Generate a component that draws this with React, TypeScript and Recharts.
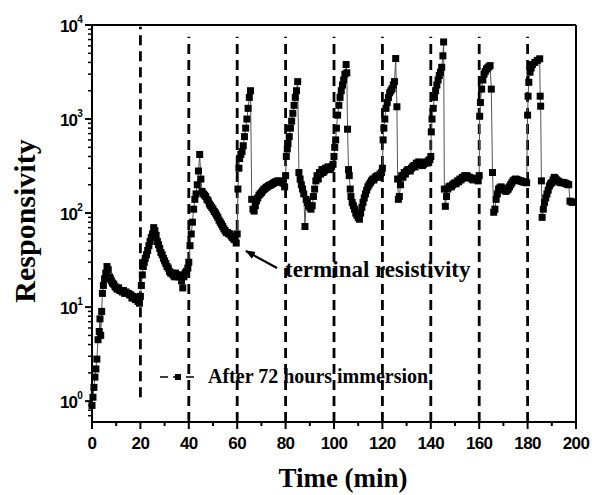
import React from 'react';
import { LineChart, Line, XAxis, YAxis, ReferenceLine } from 'recharts';

type P = [number, number];

const cycle0: P[] = [[0,0.9],[0.4,1.1],[0.8,1.4],[1.2,1.8],[1.6,2.2],[2,2.8],[2.5,4.5],[3,5.5],[3.3,7.5],[3.6,5],[4,9],[4.3,14],[4.7,17],[5.2,20],[5.7,23],[6.2,27],[6.7,25],[7.2,21],[7.6,20],[8,19],[8.5,18],[9,17.5],[9.5,16.5],[10,16],[10.5,15.5],[11,16],[11.5,15],[12,15],[12.5,14.5],[13,15],[13.5,14],[14,14.5],[14.5,14],[15,14],[15.5,13.5],[16,13.5],[16.5,12.5],[17,13],[17.5,12.5],[18,12],[18.5,12.5],[19,11.5],[19.6,11]];
const cycle1: P[] = [[20,13],[20.4,17],[20.8,22],[21.2,27],[21.6,30],[22,33],[22.5,36],[23,40],[23.5,45],[24,50],[24.5,55],[25,60],[25.5,70],[26,65],[26.5,58],[27,50],[27.5,46],[28,42],[28.5,38],[29,36],[29.5,33],[30,31],[30.5,29],[31,27],[31.5,26],[32,24],[32.5,23],[33,23],[33.5,22],[34,21],[34.5,23],[35,22],[35.5,21],[36,22],[36.5,21],[37,19],[37.5,16],[38,21],[38.5,23],[39,24],[39.6,26]];
const cycle2: P[] = [[40,30],[40.5,45],[41,60],[41.5,80],[42,110],[42.5,140],[43,160],[43.5,200],[44,280],[44.5,420],[45,230],[45.5,170],[46,160],[46.5,155],[47,150],[47.5,140],[48,135],[48.5,125],[49,120],[49.5,115],[50,110],[50.5,104],[51,100],[51.5,95],[52,90],[52.5,84],[53,80],[53.5,76],[54,72],[54.5,68],[55,65],[55.5,62],[56,62],[56.5,60],[57,60],[57.5,57],[58,55],[58.5,53],[59,52],[59.6,48]];
const cycle3: P[] = [[60,60],[60.3,180],[60.7,300],[61,380],[61.5,420],[62,450],[62.5,520],[63,650],[63.5,800],[64,1000],[64.5,1300],[65,1700],[65.5,2000],[66,140],[66.5,110],[67,105],[67.5,120],[68,135],[68.5,145],[69,155],[69.5,160],[70,165],[70.5,172],[71,178],[71.5,182],[72,188],[72.5,190],[73,195],[73.5,198],[74,200],[74.5,205],[75,208],[75.5,212],[76,215],[76.5,218],[77,220],[77.5,218],[78,215],[78.5,212],[79,208],[79.6,190]];
const cycle4: P[] = [[80,250],[80.3,400],[80.7,480],[81,550],[81.5,650],[82,800],[82.5,950],[83,1150],[83.5,1400],[84,1700],[84.5,2000],[85,2500],[85.5,270],[86,230],[86.5,200],[87,180],[87.5,160],[88,72],[88.5,140],[89,130],[89.5,120],[90,115],[90.5,110],[91,120],[91.5,150],[92,180],[92.5,220],[93,250],[93.5,230],[94,270],[94.5,260],[95,290],[95.5,270],[96,280],[96.5,300],[97,290],[97.5,310],[98,300],[98.5,290],[99,310],[99.6,330]];
const cycle5: P[] = [[100,400],[100.3,500],[100.7,600],[101,800],[101.5,1100],[102,1400],[102.5,1700],[103,2000],[103.5,2300],[104,2600],[104.5,3000],[105,3800],[105.3,3100],[105.6,780],[106,290],[106.3,250],[106.7,180],[107,150],[107.5,130],[108,120],[108.5,110],[109,100],[109.5,95],[110,90],[110.5,86],[111,100],[111.5,115],[112,130],[112.5,145],[113,160],[113.5,175],[114,190],[114.5,200],[115,210],[115.5,220],[116,230],[116.5,225],[117,240],[117.5,245],[118,250],[118.5,240],[119,260],[119.6,270]];
const cycle6: P[] = [[120,300],[120.3,600],[120.6,800],[121,1000],[121.5,1300],[122,1500],[122.5,1700],[123,1900],[123.5,2000],[124,2100],[124.5,2300],[125,2500],[125.5,4400],[126,1350],[126.3,230],[126.6,140],[127,150],[127.5,200],[128,250],[128.5,240],[129,270],[129.5,260],[130,280],[130.5,290],[131,290],[131.5,280],[132,300],[132.5,310],[133,320],[133.5,310],[134,340],[134.5,330],[135,350],[135.5,340],[136,340],[136.5,320],[137,330],[137.5,340],[138,350],[138.5,340],[139,360],[139.6,370]];
const cycle7: P[] = [[140,400],[140.2,730],[140.5,1000],[141,1300],[141.5,1700],[142,2000],[142.5,2300],[143,2600],[143.5,2900],[144,3150],[144.5,3550],[145,4700],[145.3,6600],[145.6,180],[146,118],[146.5,150],[147,180],[147.5,190],[148,194],[148.5,190],[149,200],[149.5,205],[150,210],[150.5,205],[151,220],[151.5,215],[152,230],[152.5,225],[153,240],[153.5,235],[154,250],[154.5,245],[155,250],[155.5,240],[156,240],[156.5,235],[157,230],[157.5,225],[158,230],[158.5,235],[159,230],[159.6,220]];
const cycle8: P[] = [[160,250],[160.2,1070],[160.5,1500],[161,2080],[161.5,2600],[162,3000],[162.5,3200],[163,3400],[163.5,3500],[164,3600],[164.5,3700],[165,2080],[165.5,270],[166,102],[166.5,110],[167,140],[167.5,160],[168,180],[168.5,185],[169,190],[169.5,185],[170,180],[170.5,175],[171,170],[171.5,175],[172,180],[172.5,190],[173,200],[173.5,210],[174,220],[174.5,225],[175,230],[175.5,228],[176,225],[176.5,222],[177,220],[177.5,218],[178,215],[178.5,214],[179,213],[179.6,210]];
const cycle9: P[] = [[180,1100],[180.2,1750],[180.5,2460],[181,3150],[181.5,3500],[182,3800],[183,4000],[184,4200],[185,4370],[185.2,1750],[185.4,1370],[185.7,220],[186,90],[186.5,110],[187,130],[187.5,145],[188,160],[188.5,175],[189,194],[189.5,205],[190,210],[190.5,225],[191,240],[191.5,232],[192,225],[192.5,220],[193,215],[193.5,212],[194,210],[194.5,212],[195,210],[195.5,208],[196,205],[196.5,202],[197,200],[197.5,134],[198,132],[198.5,130]];

const xTicks = [0,10,20,30,40,50,60,70,80,90,100,110,120,130,140,150,160,170,180,190,200];
const yMajor = [1,10,100,1000,10000];
const yExp = ['0','1','2','3','4'];
const yMinorFactors = [2,3,4,5,6,7,8,9];
const dashedTimes = [20,40,60,80,100,120,140,160,180];
const legendLabel = 'After 72 hours immersion';
const annotationLabel = 'terminal resistivity';
const xTitle = 'Time (min)';
const yTitle = 'Responsivity';

const data = [...cycle0, ...cycle1, ...cycle2, ...cycle3, ...cycle4, ...cycle5, ...cycle6, ...cycle7, ...cycle8, ...cycle9].map(([t, v]) => ({ t, v }));

const yTicks: number[] = [0.7, 0.8, 0.9];
yMajor.forEach((d, i) => {
  yTicks.push(d);
  if (i < yMajor.length - 1) yMinorFactors.forEach((f) => yTicks.push(d * f));
});

const W = 592;
const H = 495;
const SANS = '"Liberation Sans", Arial, sans-serif';
const SERIF = '"Liberation Serif", "Times New Roman", serif';

const XTick = (props: any) => {
  const { x, y, payload } = props;
  const v = payload.value;
  const major = v % 20 === 0;
  return (
    <g>
      <line x1={x} x2={x} y1={y} y2={y + (major ? 7 : 4)} stroke="#000" strokeWidth={2} />
      {major && (
        <text x={x} y={y + 27} textAnchor="middle" fontFamily={SANS} fontWeight="bold" fontSize={17} letterSpacing={-0.6} fill="#000">
          {v}
        </text>
      )}
    </g>
  );
};

const YTick = (props: any) => {
  const { x, y, payload } = props;
  const v = payload.value;
  const idx = yMajor.indexOf(v);
  const major = idx >= 0;
  return (
    <g>
      <line x1={x - (major ? 7 : 4)} x2={x} y1={y} y2={y} stroke="#000" strokeWidth={major ? 2 : 1.5} />
      {major && (
        <text x={x - 10} y={y + 7} textAnchor="end" fontFamily={SANS} fontWeight="bold" fontSize={17} letterSpacing={-0.8} fill="#000">
          <tspan>10</tspan>
          <tspan dy={-9} fontSize={10}>{yExp[idx]}</tspan>
        </text>
      )}
    </g>
  );
};

const SquareDot = (props: any) => {
  const { cx, cy, index } = props;
  if (cx == null || cy == null) return <g key={index} />;
  return <rect key={index} x={cx - 3.5} y={cy - 3.5} width={7} height={7} fill="#000" />;
};

export default function App() {
  return (
    <div style={{ position: 'absolute', left: 0, top: 0, width: W, height: H, overflow: 'hidden', background: '#fff' }}>
      <LineChart width={W} height={H} data={data} margin={{ top: 25, right: 16, bottom: 33, left: 32 }}>
        <XAxis
          dataKey="t"
          type="number"
          domain={[0, 200]}
          ticks={xTicks}
          interval={0}
          tickSize={0}
          tickMargin={0}
          tickLine={false}
          height={40}
          axisLine={{ stroke: '#000', strokeWidth: 2 }}
          tick={<XTick />}
        />
        <YAxis
          type="number"
          scale="log"
          domain={[0.6, 10000]}
          allowDataOverflow
          ticks={yTicks}
          interval={0}
          tickSize={0}
          tickMargin={0}
          tickLine={false}
          width={60}
          axisLine={{ stroke: '#000', strokeWidth: 2 }}
          tick={<YTick />}
        />
        <ReferenceLine y={10000} stroke="#000" strokeWidth={2} />
        <ReferenceLine x={200} stroke="#000" strokeWidth={2} />
        {dashedTimes.map((t) => (
          <ReferenceLine
            key={t}
            segment={t === 20 ? [{ x: t, y: 1.1 }, { x: t, y: 9600 }] : [{ x: t, y: 0.6 }, { x: t, y: 7500 }]}
            stroke="#000"
            strokeWidth={2.8}
            strokeDasharray="10 6"
          />
        ))}
        <Line
          dataKey="v"
          stroke="#555"
          strokeWidth={1}
          dot={<SquareDot />}
          activeDot={false}
          isAnimationActive={false}
        />
      </LineChart>
      <svg width={W} height={H} style={{ position: 'absolute', left: 0, top: 0, pointerEvents: 'none' }}>
        <defs>
          <marker id="arrowHead" markerWidth="10" markerHeight="8" refX="9" refY="4" orient="auto" markerUnits="userSpaceOnUse">
            <path d="M0,0 L10,4 L0,8 Z" fill="#000" />
          </marker>
        </defs>
        <text
          transform="translate(35,221) rotate(-90)"
          textAnchor="middle"
          fontFamily={SERIF}
          fontWeight="bold"
          fontSize={30}
          fill="#000"
        >
          {yTitle}
        </text>
        <text x={343} y={487} textAnchor="middle" fontFamily={SERIF} fontWeight="bold" fontSize={27} fill="#000">
          {xTitle}
        </text>
        <line x1={160} x2={198} y1={377} y2={377} stroke="#000" strokeWidth={1.5} strokeDasharray="8 5" />
        <rect x={175} y={374} width={6} height={6} fill="#000" />
        <text x={208} y={383} fontFamily={SERIF} fontWeight="bold" fontSize={20} fill="#000">
          {legendLabel}
        </text>
        <line x1={277} y1={268} x2={246} y2={251} stroke="#000" strokeWidth={2.2} markerEnd="url(#arrowHead)" />
        <text x={285} y={277} fontFamily={SERIF} fontWeight="bold" fontSize={23} fill="#000">
          {annotationLabel}
        </text>
      </svg>
    </div>
  );
}
